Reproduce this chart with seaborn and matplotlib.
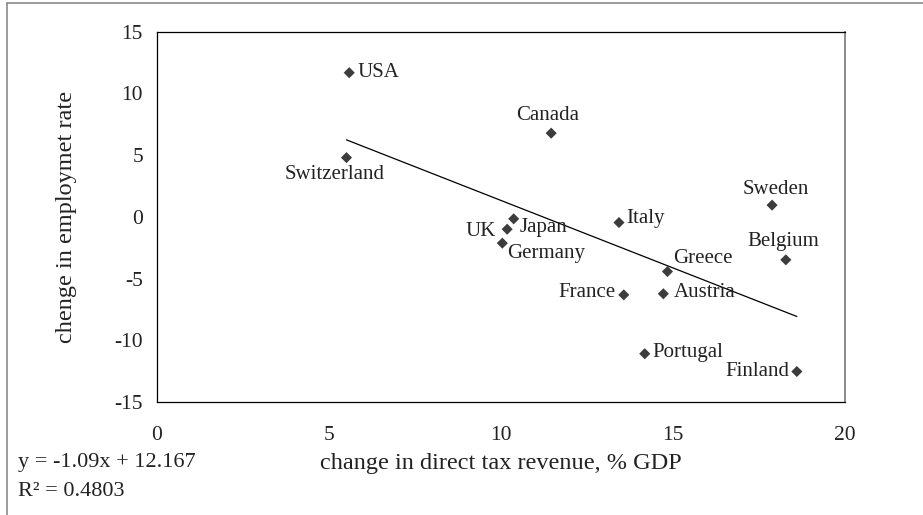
import seaborn as sns
import matplotlib.pyplot as plt
from matplotlib.lines import Line2D
import pandas as pd

countries = ['USA', 'Switzerland', 'Canada', 'Sweden', 'Italy', 'Japan', 'UK',
             'Germany', 'Belgium', 'Greece', 'France', 'Austria', 'Portugal', 'Finland']
tax_change = [5.59, 5.51, 11.46, 17.88, 13.43, 10.37, 10.18,
              10.04, 18.28, 14.84, 13.57, 14.72, 14.18, 18.60]
emp_change = [11.68, 4.80, 6.78, 0.95, -0.46, -0.16, -1.00,
              -2.13, -3.48, -4.43, -6.32, -6.23, -11.09, -12.53]

df = pd.DataFrame({'tax': tax_change, 'emp': emp_change, 'country': countries})

sns.set_style('white')
plt.rcParams['font.family'] = ['Liberation Serif', 'DejaVu Serif']
plt.rcParams['axes.unicode_minus'] = False
txt = '#222222'

fig = plt.figure(figsize=(9.23, 5.15), dpi=100)
ax = fig.add_axes([0.170, 0.2194, 0.7455, 0.7190])

# trend line + points
sns.regplot(data=df, x='tax', y='emp', ci=None, scatter=False, truncate=True,
            line_kws=dict(color='black', lw=0.9), ax=ax)
sns.scatterplot(data=df, x='tax', y='emp', marker='D', s=32, color='#3c3c3c',
                edgecolor='none', ax=ax, zorder=3)

# label placement (pixel offsets from the point)
offsets = {
    'USA': (8, 0, 'left'), 'Switzerland': (-12, -17, 'center'),
    'Canada': (-4, 18, 'center'), 'Sweden': (4, 16, 'center'),
    'Italy': (7, 4, 'left'), 'Japan': (6, -9, 'left'), 'UK': (-11, -2, 'right'),
    'Germany': (5, -10, 'left'), 'Belgium': (-3, 18, 'center'),
    'Greece': (6, 13, 'left'), 'France': (-8, 2, 'right'), 'Austria': (10, 1, 'left'),
    'Portugal': (8, 1, 'left'), 'Finland': (-7, 0, 'right'),
}
for c, x, y in zip(countries, tax_change, emp_change):
    dx, dy, ha = offsets[c]
    ax.annotate(c, (x, y), xytext=(dx, dy), textcoords='offset pixels',
                ha=ha, va='center', fontsize=15, color=txt)

ax.set_xlim(0, 20)
ax.set_ylim(-15, 15)
ax.set_xticks([0, 5, 10, 15, 20])
ax.set_yticks([-15, -10, -5, 0, 5, 10, 15])
ax.tick_params(axis='x', direction='out', length=5, width=0.9, pad=12,
               labelsize=15.5, colors=txt)
ax.tick_params(axis='y', direction='out', length=5, width=0.9, pad=5,
               labelsize=15.5, colors=txt)
ax.tick_params(axis='both', color='black')

for s in ['left', 'bottom', 'top']:
    ax.spines[s].set_color('black')
    ax.spines[s].set_linewidth(0.9)
ax.spines['right'].set_color('#8a8a8a')
ax.spines['right'].set_linewidth(1.4)

ax.set_xlabel('change in direct tax revenue, % GDP', fontsize=17.5, color=txt, va='center')
ax.set_ylabel('chenge in employmet rate', fontsize=17.5, color=txt, va='center')
ax.xaxis.set_label_coords(0.5, -0.165)
ax.yaxis.set_label_coords(-0.131, 0.5)

fig.text(18 / 923, 1 - 463 / 515, 'y = -1.09x + 12.167', fontsize=16, color=txt, va='center')
fig.text(18 / 923, 1 - 491 / 515, 'R² = 0.4803', fontsize=16, color=txt, va='center')

# outer frame (top and left edges)
fig.add_artist(Line2D([7 / 923, 1], [1 - 2.5 / 515, 1 - 2.5 / 515], color='#8a8a8a', lw=1.2,
                      transform=fig.transFigure))
fig.add_artist(Line2D([7 / 923, 7 / 923], [0, 1 - 2.5 / 515], color='#8a8a8a', lw=1.2,
                      transform=fig.transFigure))

fig.savefig('out.png', dpi=100)
